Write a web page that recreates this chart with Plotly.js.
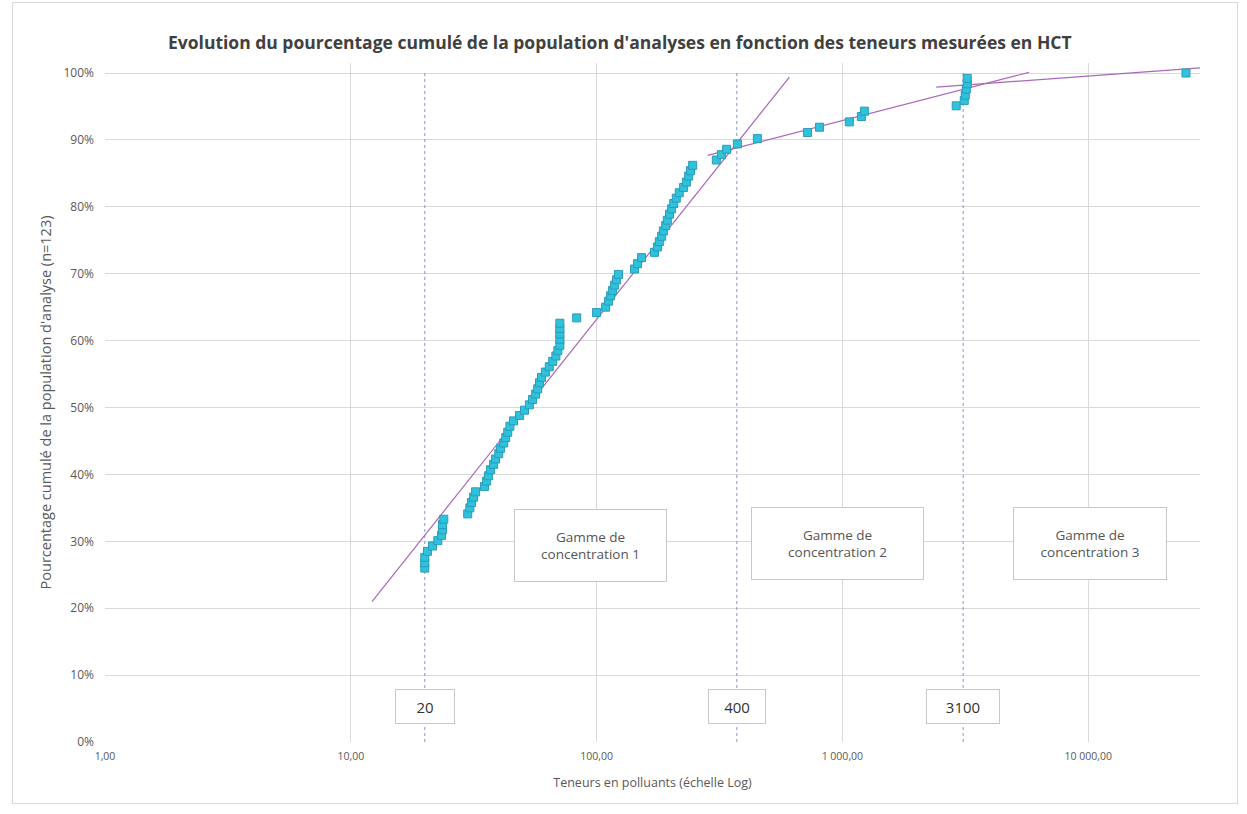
<!DOCTYPE html>
<html>
<head>
<meta charset="utf-8">
<script src="https://cdn.plot.ly/plotly-3.0.1.min.js"></script>
<style>
  html, body { margin: 0; padding: 0; background: #ffffff; }
  #wrap { position: relative; width: 1247px; height: 814px; }
  #chart { width: 1247px; height: 814px; }
  #frame { position: absolute; left: 12px; top: 2px; width: 1224px; height: 800px;
           border: 1px solid #d9d9d9; pointer-events: none; }
</style>
</head>
<body>
<div id="wrap">
  <div id="chart"></div>
  <div id="frame"></div>
</div>
<script>
// Measured concentrations (HCT) and cumulative percentage of the analysis population
const teneurs = [
  20, 20, 20, 20.5, 21.5, 22.6, 23.4, 23.6, 23.6, 23.9,
  29.9, 30.5, 31.0, 31.6, 32.2,
  35.0, 35.7, 36.3, 37.0, 38.1, 38.8, 40.0, 40.7, 41.9, 42.7, 43.5, 44.4,
  45.9, 48.6, 50.9, 53.3, 54.9, 56.5, 57.6, 58.6, 59.7, 61.9, 64.2, 66.3, 68.3, 69.6,
  70.9, 70.9, 70.9, 70.9, 70.9,
  83.0, 100, 108.8, 111.9, 114, 116, 118.4, 120.6, 122.8,
  142.7, 146.8, 152.4,
  172, 177, 180, 184, 187, 191, 194, 198, 202, 206, 211, 217, 226, 232, 237, 241, 246,
  307, 322, 338, 374, 451,
  721, 807, 1067, 1195, 1229,
  2905, 3133, 3162, 3192, 3222, 3222,
  25000
];
const pourcentCumule = [
  26.0, 26.8, 27.6, 28.5, 29.3, 30.1, 30.9, 31.7, 32.5, 33.3,
  34.1, 35.0, 35.8, 36.6, 37.4,
  38.2, 39.0, 39.8, 40.7, 41.5, 42.3, 43.1, 43.9, 44.7, 45.5, 46.3, 47.2,
  48.0, 48.8, 49.6, 50.4, 51.2, 52.0, 52.8, 53.7, 54.5, 55.3, 56.1, 56.9, 57.7, 58.5,
  59.3, 60.2, 61.0, 61.8, 62.6,
  63.4, 64.2, 65.0, 65.9, 66.7, 67.5, 68.3, 69.1, 69.9,
  70.7, 71.5, 72.4,
  73.2, 74.0, 74.8, 75.6, 76.4, 77.2, 78.0, 78.9, 79.7, 80.5, 81.3, 82.1, 82.9, 83.7, 84.6, 85.4, 86.2,
  87.0, 87.8, 88.6, 89.4, 90.2,
  91.1, 91.9, 92.7, 93.5, 94.3,
  95.1, 95.9, 96.7, 97.6, 98.4, 99.2,
  100.0
];

// Trend lines (start / end) for the three concentration ranges
const tendance1X = [12.2, 609];
const tendance1Y = [21.0, 99.4];
const tendance2X = [283, 5750];
const tendance2Y = [87.7, 100.1];
const tendance3X = [2410, 31900];
const tendance3Y = [97.9, 100.9];

// Thresholds (dashed lines) and their labels
const seuilsX = [20, 372, 3100];
const seuilsLabels = ["20", "400", "3100"];

// Range label boxes
const gammesX = [94.6, 955, 10190];
const gammesY = [29.3, 29.6, 29.7];
const gammesLabels = ["Gamme de<br>concentration 1", "Gamme de<br>concentration 2", "Gamme de<br>concentration 3"];

// Axis ticks
const xTickVals = [1, 10, 100, 1000, 10000];
const xTickText = ["1,00", "10,00", "100,00", "1 000,00", "10 000,00"];
const yTickVals = [0, 10, 20, 30, 40, 50, 60, 70, 80, 90, 100];
const yTickText = ["0%", "10%", "20%", "30%", "40%", "50%", "60%", "70%", "80%", "90%", "100%"];

const FONT = "Open Sans, DejaVu Sans, sans-serif";
const trendColor = "#a868b8";
const dashColor = "#8a8fd0";

const traces = [];

seuilsX.forEach(function (sx) {
  traces.push({
    x: [sx, sx], y: [0, 100], mode: "lines", type: "scatter",
    line: { color: dashColor, width: 1, dash: "dot" },
    hoverinfo: "skip", showlegend: false
  });
});

[[tendance1X, tendance1Y], [tendance2X, tendance2Y], [tendance3X, tendance3Y]].forEach(function (t) {
  traces.push({
    x: t[0], y: t[1], mode: "lines", type: "scatter",
    line: { color: trendColor, width: 1.2 },
    hoverinfo: "skip", showlegend: false
  });
});

traces.push({
  x: teneurs, y: pourcentCumule, mode: "markers", type: "scatter",
  marker: { symbol: "square", size: 8, color: "#2fc2da", line: { color: "#2a9cba", width: 1 } },
  showlegend: false
});

const annotations = [];
const seuilsWidths = [58, 56, 72];
seuilsX.forEach(function (sx, i) {
  annotations.push({
    x: Math.log10(sx), y: 5.3, xref: "x", yref: "y",
    text: seuilsLabels[i], showarrow: false,
    font: { family: FONT, size: 15, color: "#333333" },
    bgcolor: "#ffffff", bordercolor: "#c8c8c8", borderwidth: 1, borderpad: 0,
    width: seuilsWidths[i], height: 33
  });
});
const gammesWidths = [151, 171, 152];
gammesX.forEach(function (gx, i) {
  annotations.push({
    x: Math.log10(gx), y: gammesY[i], xref: "x", yref: "y",
    text: gammesLabels[i], showarrow: false,
    font: { family: FONT, size: 13.5, color: "#555555" },
    bgcolor: "#ffffff", bordercolor: "#c8c8c8", borderwidth: 1, borderpad: 0,
    width: gammesWidths[i], height: 71
  });
});

const layout = {
  width: 1247, height: 814,
  margin: { l: 105, r: 47, t: 63, b: 72 },
  paper_bgcolor: "#ffffff", plot_bgcolor: "#ffffff",
  title: {
    text: "Evolution du pourcentage cumulé de la population d'analyses en fonction des teneurs mesurées en HCT",
    font: { family: FONT, size: 17.5, color: "#404040", weight: "bold" },
    x: 0.497, xanchor: "center", y: 0.947, yanchor: "middle"
  },
  xaxis: {
    type: "log", range: [0, 4.455],
    tickvals: xTickVals, ticktext: xTickText,
    showgrid: true, gridcolor: "#d9d9d9", gridwidth: 1,
    zeroline: false, showline: false, ticks: "",
    ticklabelstandoff: 6,
    tickfont: { family: FONT, size: 10.5, color: "#595959" },
    title: { text: "Teneurs en polluants (échelle Log)", font: { family: FONT, size: 12.5, color: "#595959" }, standoff: 16 }
  },
  yaxis: {
    range: [0, 101.5],
    tickvals: yTickVals, ticktext: yTickText,
    showgrid: true, gridcolor: "#d9d9d9", gridwidth: 1,
    zeroline: false, showline: false, ticks: "",
    ticklabelstandoff: 10,
    tickfont: { family: FONT, size: 12, color: "#595959" },
    title: { text: "Pourcentage cumulé de la population d'analyse (n=123)", font: { family: FONT, size: 14.5, color: "#595959" }, standoff: 8 }
  },
  annotations: annotations,
  showlegend: false
};

Plotly.newPlot("chart", traces, layout, { displayModeBar: false, staticPlot: true });
</script>
</body>
</html>
